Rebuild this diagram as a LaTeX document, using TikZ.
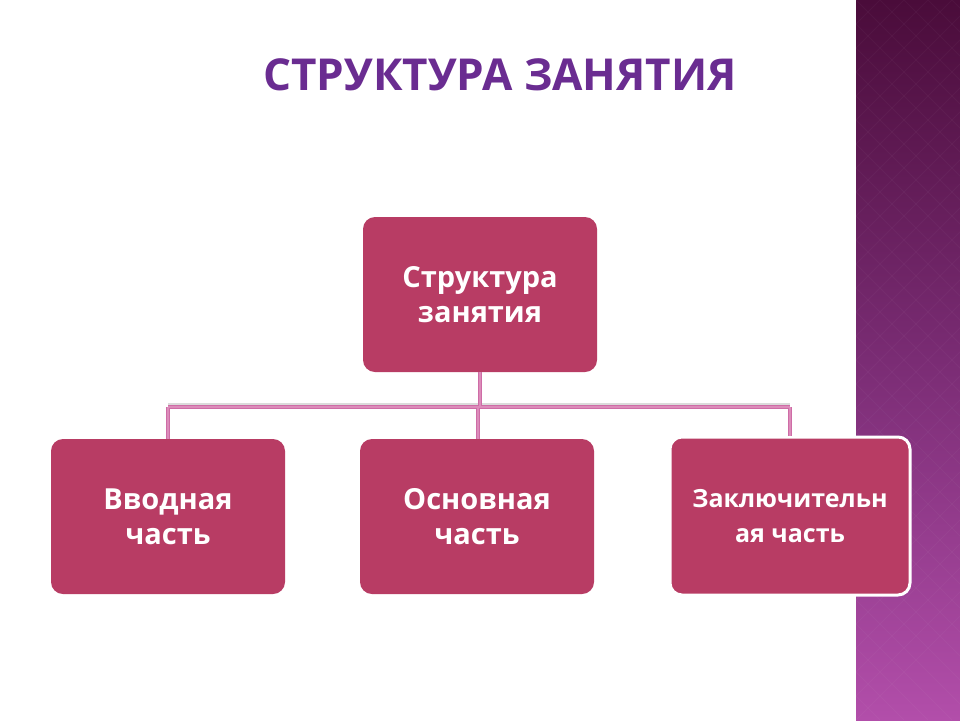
\documentclass[tikz,border=0pt]{standalone}
\usepackage{fontspec}
\setmainfont{Open Sans}
\definecolor{boxfill}{HTML}{B83C64}
\definecolor{titlecol}{HTML}{6A2C91}
\definecolor{bandtop}{HTML}{4A0C3A}
\definecolor{bandmid}{HTML}{7A2C74}
\definecolor{bandbot}{HTML}{B24EAA}
\definecolor{linkout}{HTML}{CE6CA6}
\definecolor{linkin}{HTML}{DC8CBA}
\tikzset{
  box/.style={rectangle, rounded corners=12pt, fill=boxfill, minimum width=234pt, minimum height=155pt,
    text=white, align=center, font=\bfseries\fontsize{29}{35}\selectfont, inner sep=4pt},
  link/.style={draw=linkout, line width=4.5pt},
  linkcore/.style={draw=linkin, line width=1.2pt},
  linkshadow/.style={draw=black!40, opacity=0.35, line width=4pt},
}
\begin{document}
\begin{tikzpicture}[x=1pt,y=-1pt]
\useasboundingbox (0,0) rectangle (960,720);
\fill[white] (0,0) rectangle (960,720);
% purple band
\shade[top color=bandtop, bottom color=bandbot, middle color=bandmid] (856,0) rectangle (960,720);
\begin{scope}
\clip (856,0) rectangle (960,720);
\foreach \k in {-30,...,30}{
  \draw[white, opacity=0.03, line width=0.8pt] (856+\k*24,0) -- ++(720,720);
  \draw[white, opacity=0.03, line width=0.8pt] (856+\k*24,0) -- ++(-720,720);
}
\end{scope}
% title
\node (title) [text=titlecol, font=\bfseries\fontsize{44}{48}\selectfont] at (500,75) {СТРУКТУРА ЗАНЯТИЯ};
% boxes
\node (top) [box] at (480,294.5) {Структура\\занятия};
\node (left) [box] at (168,516.5) {Вводная\\часть};
\node (mid) [box] at (477,516.5) {Основная\\часть};
\node (right) [box, draw=white, line width=3pt, minimum width=240pt, minimum height=158pt, font=\bfseries\fontsize{25}{35}\selectfont] at (790,516) {Заключительн\\ая часть};
% connectors
\coordinate (j) at (480,407);
\coordinate (jl) at (168,407);
\coordinate (jr) at (790,407);
\coordinate (jm) at (478,407);
\draw[linkshadow] ([yshift=2pt]jl) -- ([yshift=2pt]jr);
\foreach \s in {link,linkcore}{
  \draw[\s] (top.south) -- (j);
  \draw[\s] (jl) -- (jr);
  \draw[\s] (jl) -- (jl |- left.north);
  \draw[\s] (jm) -- (jm |- mid.north);
  \draw[\s] (jr) -- (jr |- right.north);
}
\end{tikzpicture}
\end{document}
